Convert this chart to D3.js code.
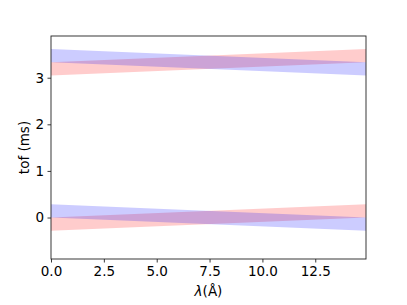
<!DOCTYPE html>
<html><head><meta charset="utf-8">
<script src="https://cdn.jsdelivr.net/npm/d3@7"></script>
<style>body{margin:0;background:#fff}text{font-family:"DejaVu Sans",sans-serif}</style>
</head><body><svg id="c" width="407" height="305"></svg>
<script>
// data
const lambdaRange = [0, 14.9];
const xTicks = [0, 2.5, 5, 7.5, 10, 12.5];
const yTicks = [0, 1, 2, 3];
const centers = [0, 3.333];
const halfSpan = 0.285;
// band edges at [lambda start, lambda end] relative to center: [lower, upper]
const blueLower = [0, -halfSpan], blueUpper = [halfSpan, 0];
const redLower = [-halfSpan, 0], redUpper = [0, halfSpan];

const W = 407, H = 305, m = {l: 51, r: 41, t: 36, b: 46};
const svg = d3.select("#c");
const x = d3.scaleLinear().domain(lambdaRange).range([m.l, W - m.r]);
const y = d3.scaleLinear().domain([-0.89, 3.895]).range([H - m.b, m.t]);

const area = d3.area().x(d => x(d.x)).y0(d => y(d.lo)).y1(d => y(d.hi));
function band(c, lo, hi) {
  return lambdaRange.map((lx, i) => ({x: lx, lo: c + lo[i], hi: c + hi[i]}));
}
centers.forEach(c => {
  svg.append("path").attr("d", area(band(c, redLower, redUpper))).attr("fill", "red").attr("fill-opacity", 0.2);
  svg.append("path").attr("d", area(band(c, blueLower, blueUpper))).attr("fill", "blue").attr("fill-opacity", 0.2);
});

const fs = 13.5;
const xa = svg.append("g").attr("transform", `translate(0,${H - m.b})`)
  .call(d3.axisBottom(x).tickValues(xTicks).tickFormat(d3.format(".1f")).tickSizeOuter(0).tickSize(3.5).tickPadding(3.5));
const ya = svg.append("g").attr("transform", `translate(${m.l},0)`)
  .call(d3.axisLeft(y).tickValues(yTicks).tickFormat(d3.format("d")).tickSizeOuter(0).tickSize(3.5).tickPadding(3.5));
[xa, ya].forEach(a => {
  a.select(".domain").remove();
  a.selectAll("text").attr("font-size", fs).attr("fill", "#000").attr("font-family", "DejaVu Sans");
  a.selectAll("line").attr("stroke", "#222").attr("stroke-width", 0.9);
});
svg.append("rect").attr("x", m.l).attr("y", m.t).attr("width", W - m.l - m.r).attr("height", H - m.t - m.b)
  .attr("fill", "none").attr("stroke", "#222").attr("stroke-width", 0.9);

const xl = svg.append("text").attr("x", (m.l + W - m.r) / 2).attr("y", 296).attr("text-anchor", "middle").attr("font-size", fs);
xl.append("tspan").attr("font-style", "italic").text("λ");
xl.append("tspan").text("(Å)");
svg.append("text").attr("transform", `translate(29,${(m.t + H - m.b) / 2}) rotate(-90)`)
  .attr("text-anchor", "middle").attr("font-size", fs).text("tof (ms)");
</script></body></html>
